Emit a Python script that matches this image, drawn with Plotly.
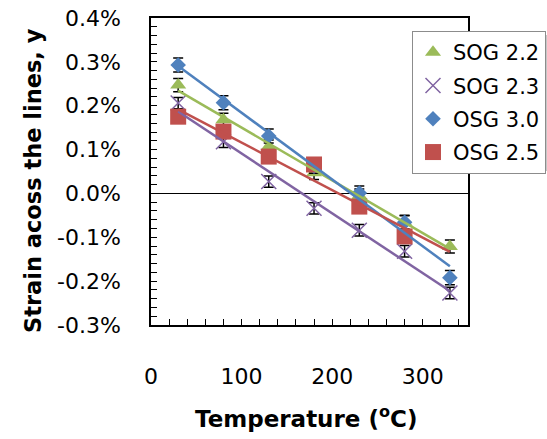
import numpy as np
import plotly.graph_objects as go

# ---------------- data ----------------
TEMP = [30, 80, 130, 180, 230, 280, 330]          # °C

SERIES_NAMES = ["SOG 2.2", "SOG 2.3", "OSG 3.0", "OSG 2.5"]
SOG22 = [0.247, 0.168, 0.107, 0.047, -0.005, -0.066, -0.121]   # strain, %
SOG23 = [0.206, 0.118, 0.027, -0.034, -0.084, -0.132, -0.227]
OSG30 = [0.293, 0.207, 0.131, 0.062, 0.001, -0.066, -0.192]
OSG25 = [0.175, 0.141, 0.084, 0.066, -0.030, -0.098, None]

ERR22 = [0.015] * 7
ERR23 = [0.013] * 7
ERR30 = [0.016] * 7
ERR25 = [0.015] * 7

Y_TICKS = [-0.3, -0.2, -0.1, 0.0, 0.1, 0.2, 0.3, 0.4]
Y_TICK_TEXT = ["-0.3%", "-0.2%", "-0.1%", "0.0%", "0.1%", "0.2%", "0.3%", "0.4%"]
X_TICKS = [0, 100, 200, 300]
X_TICK_TEXT = ["0", "100", "200", "300"]

# ---------------- styles ----------------
COLORS = ["#9BBB59", "#8064A2", "#4F81BD", "#C0504D"]
SYMBOLS = ["triangle-up", "x-thin-open", "diamond", "square"]
SIZES = [14, 15, 12, 16]
FONT = "DejaVu Sans"

values = [SOG22, SOG23, OSG30, OSG25]
errors = [ERR22, ERR23, ERR30, ERR25]

fig = go.Figure()

# markers with error bars
for i, name in enumerate(SERIES_NAMES):
    fig.add_trace(go.Scatter(
        x=TEMP, y=values[i], mode="markers", name=name,
        legendgroup=name,
        marker=dict(symbol=SYMBOLS[i], size=SIZES[i], color=COLORS[i],
                    line=dict(color=COLORS[i], width=1.5 if i == 1 else 0)),
        error_y=dict(type="data", array=errors[i], visible=True,
                     color="black", thickness=1.5, width=5),
    ))

# linear trendlines (drawn on top, spanning full temperature range)
x_end = np.array([min(TEMP), max(TEMP)], dtype=float)
for i, name in enumerate(SERIES_NAMES):
    xs = np.array([t for t, v in zip(TEMP, values[i]) if v is not None], dtype=float)
    ys = np.array([v for v in values[i] if v is not None], dtype=float)
    slope, icpt = np.polyfit(xs, ys, 1)
    fig.add_trace(go.Scatter(
        x=x_end, y=slope * x_end + icpt, mode="lines",
        line=dict(color=COLORS[i], width=2.5),
        showlegend=False, hoverinfo="skip",
    ))

W, H = 547, 439
L, R, T, B = 151, 79, 18, 114
pw, ph = W - L - R, H - T - B

def px(xpix):
    return (xpix - L) / pw

def py(ypix):
    return (H - B - ypix) / ph

axis_common = dict(
    showline=True, linecolor="black", linewidth=1.5, mirror=True,
    showgrid=False, ticks="inside", ticklen=6, tickwidth=1.2, tickcolor="black",
    tickfont=dict(family=FONT, size=22, color="black"),
)

fig.update_xaxes(
    range=[0, 350], tickmode="array", tickvals=X_TICKS, ticktext=X_TICK_TEXT,
    zeroline=False, ticklabelstandoff=31,
    minor=dict(tickmode="linear", tick0=0, dtick=20, ticks="inside",
               ticklen=6, tickwidth=1.2, tickcolor="black"),
    **axis_common,
)
fig.update_yaxes(
    range=[-0.3, 0.4], tickmode="array", tickvals=Y_TICKS, ticktext=Y_TICK_TEXT,
    zeroline=True, zerolinecolor="black", zerolinewidth=1.2, ticklabelstandoff=24,
    minor=dict(tickmode="linear", tick0=0, dtick=0.02, ticks="inside",
               ticklen=6, tickwidth=1.2, tickcolor="black"),
    **axis_common,
)

# legend shadow
fig.add_shape(type="rect", xref="paper", yref="paper",
              x0=px(415), x1=px(580), y0=py(171), y1=py(35),
              fillcolor="rgba(0,0,0,0.22)", line=dict(width=0), layer="above")

fig.update_layout(
    width=W, height=H,
    margin=dict(l=L, r=R, t=T, b=B, autoexpand=False),
    paper_bgcolor="white", plot_bgcolor="white",
    font=dict(family=FONT, color="black"),
    legend=dict(
        x=px(412), y=py(31), xanchor="left", yanchor="top",
        bgcolor="white", bordercolor="#8c8c8c", borderwidth=1,
        font=dict(family=FONT, size=21, color="black"),
        tracegroupgap=3, itemsizing="trace",
    ),
    annotations=[
        dict(text="Temperature (<sup>o</sup>C)", xref="paper", yref="paper",
             x=px(306), y=py(417), xanchor="center", yanchor="middle",
             showarrow=False, font=dict(family=FONT, size=23, color="black", weight="bold")),
        dict(text="Strain acoss the lines, y", xref="paper", yref="paper",
             x=px(33), y=py(181), xanchor="center", yanchor="middle", textangle=-90,
             showarrow=False, font=dict(family=FONT, size=22.5, color="black", weight="bold")),
    ],
)

fig.write_html("out.html",
               config={"displayModeBar": False},
               post_script="document.body.style.margin='0';document.body.style.padding='0';")
